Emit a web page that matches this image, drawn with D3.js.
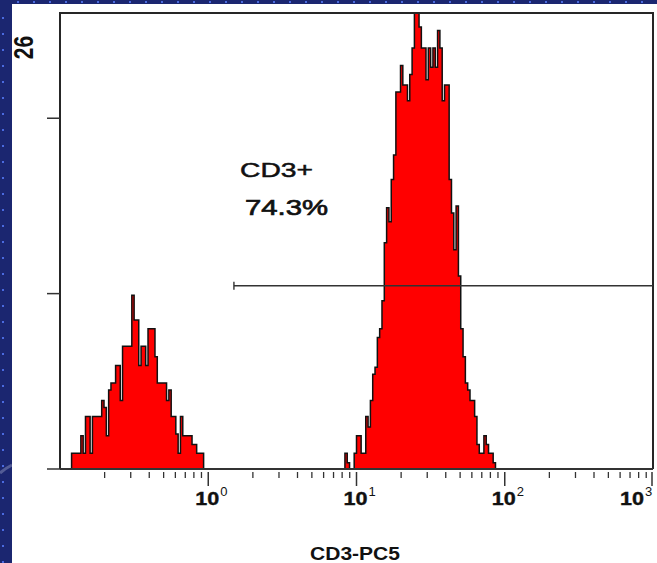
<!DOCTYPE html>
<html>
<head>
<meta charset="utf-8">
<script src="https://cdn.jsdelivr.net/npm/d3@7"></script>
<style>
  html, body { margin: 0; padding: 0; background: #1b2670; }
  svg { display: block; }
</style>
</head>
<body>
<script>
// ---------- data ----------
const channelCount = 256;              // channels spread over 4 decades
const decadeRange = [0.1, 1000];
const yMax = 26;
const yTicks = [0, 10, 20];
const majorTicks = [1, 10, 100, 1000];
const majorTickLabels = ["0", "1", "2", "3"];   // exponents of 10
const axisTitle = "CD3-PC5";
const gateLabel = "CD3+";
const gatePercent = "74.3%";
const gateRange = [1.49, 1000];
const gateLevel = 10.45;

const lowPeakFirstChannel = 5;
const lowPeakCounts = [
  0.9, 0.9, 0.9, 0.9, 1.9, 0.9, 3.0, 3.0, 0.9, 3.0,
  3.0, 3.0, 3.0, 3.9, 3.5, 1.9, 4.5, 4.9, 4.9, 5.9,
  5.9, 3.9, 7.0, 7.0, 7.0, 7.0, 9.9, 8.5, 8.5, 5.9,
  7.0, 7.0, 5.9, 8.0, 8.0, 8.0, 6.4, 4.9, 4.9, 4.9,
  4.9, 3.9, 4.5, 3.0, 3.0, 2.0, 0.9, 3.0, 1.9, 1.9,
  1.9, 1.9, 1.4, 1.4, 0.9, 0.9, 0.9
];

const highPeakFirstChannel = 123;
const highPeakCounts = [
  0.9, 0.35, 0, 0, 0.9, 1.9, 1.9, 0.9, 0.9, 3.0,
  2.4, 3.9, 5.4, 5.8, 7.5, 8.0, 9.6, 12.9, 14.9, 14.1,
  16.5, 17.9, 21.5, 21.5, 23.0, 21.9, 21.9, 21.0, 22.5, 24.0,
  26.0, 26.0, 25.2, 24.0, 24.0, 22.2, 24.0, 22.9, 24.0, 22.9,
  25.0, 24.0, 21.0, 21.9, 21.9, 16.5, 14.6, 12.5, 15.0, 11.0,
  8.0, 6.4, 4.9, 4.5, 3.9, 3.9, 3.0, 1.4, 0.9, 0.9,
  1.9, 1.4, 0.9, 0.9, 0.35
];

// ---------- layout ----------
const W = 657, H = 563;
const plot = { left: 60, right: 653, top: 13, bottom: 469 };
const FONT = "Liberation Sans, Arial, sans-serif";

const svg = d3.select("body").append("svg")
  .attr("width", W).attr("height", H);

// dark blue background with dotted pattern
svg.append("rect").attr("width", W).attr("height", H).attr("fill", "#1b2670");
const dots = svg.append("g").attr("fill", "#4b6be0");
for (let x = 17; x < W; x += 16) dots.append("rect").attr("x", x).attr("y", 1).attr("width", 2).attr("height", 2);
for (let y = 17; y < H; y += 16) dots.append("rect").attr("x", 2).attr("y", y).attr("width", 2).attr("height", 2);
svg.append("path").attr("d", "M0,473 Q6,468 12,465")
  .attr("stroke", "rgba(190,195,220,0.35)").attr("stroke-width", 3).attr("fill", "none");

// white panel
svg.append("rect").attr("x", 12).attr("y", 4).attr("width", W - 12).attr("height", H - 4).attr("fill", "#ffffff");

// ---------- scales ----------
const x = d3.scaleLog().domain(decadeRange).range([plot.left, plot.right]);
const y = d3.scaleLinear().domain([0, yMax]).range([plot.bottom, plot.top]);
const logMin = Math.log10(decadeRange[0]);
const logSpan = Math.log10(decadeRange[1]) - logMin;
const channelValue = i => Math.pow(10, logMin + logSpan * i / channelCount);

function peakPoints(first, counts) {
  const pts = counts.map((c, k) => ({ v: channelValue(first + k), c }));
  pts.push({ v: channelValue(first + counts.length), c: 0 });
  return pts;
}

const area = d3.area()
  .x(d => x(d.v)).y0(y(0)).y1(d => y(d.c))
  .curve(d3.curveStepAfter);

[peakPoints(lowPeakFirstChannel, lowPeakCounts), peakPoints(highPeakFirstChannel, highPeakCounts)]
  .forEach(pts => {
    svg.append("path").datum(pts)
      .attr("d", area)
      .attr("fill", "#ff0000")
      .attr("stroke", "#111")
      .attr("stroke-width", 1.5)
      .attr("stroke-linejoin", "miter");
  });

// ---------- frame ----------
svg.append("path")
  .attr("d", `M${plot.left},${plot.bottom} V${plot.top} H${plot.right} V${plot.bottom}`)
  .attr("fill", "none").attr("stroke", "#262626").attr("stroke-width", 2);
svg.append("line")
  .attr("x1", plot.left).attr("x2", plot.right)
  .attr("y1", plot.bottom).attr("y2", plot.bottom)
  .attr("stroke", "#333").attr("stroke-width", 2);

// y ticks
svg.append("g").selectAll("line").data(yTicks).join("line")
  .attr("x1", plot.left - 13).attr("x2", plot.left)
  .attr("y1", d => y(d)).attr("y2", d => y(d))
  .attr("stroke", "#333").attr("stroke-width", 1.5);

// y max label
svg.append("text")
  .attr("transform", `translate(33,47.5) rotate(-90) scale(1,1.3)`)
  .attr("text-anchor", "middle")
  .attr("font-family", FONT)
  .attr("font-weight", "bold").attr("font-size", 21)
  .attr("fill", "#111")
  .text(yMax);

// x minor ticks
const minorTicks = [];
[0.1, 1, 10, 100].forEach(dec => { for (let m = 2; m <= 9; m++) minorTicks.push(dec * m); });
svg.append("g").selectAll("line").data(minorTicks).join("line")
  .attr("x1", d => x(d)).attr("x2", d => x(d))
  .attr("y1", plot.bottom + 3).attr("y2", plot.bottom + 9)
  .attr("stroke", "#333").attr("stroke-width", 1.3);
svg.append("g").selectAll("line").data(majorTicks).join("line")
  .attr("x1", d => Math.min(x(d), plot.right - 1)).attr("x2", d => Math.min(x(d), plot.right - 1))
  .attr("y1", plot.bottom + 3).attr("y2", plot.bottom + 17)
  .attr("stroke", "#333").attr("stroke-width", 1.5);

// x major labels
majorTicks.forEach((t, i) => {
  const startX = Math.min(x(t) - 13, W - 37);
  const txt = svg.append("text")
    .attr("x", startX).attr("y", 505)
    .attr("font-family", FONT)
    .attr("fill", "#111");
  txt.append("tspan").attr("font-weight", "bold").attr("font-size", 19)
    .attr("stroke", "#111").attr("stroke-width", 0.4)
    .attr("textLength", 24).attr("lengthAdjust", "spacingAndGlyphs").text("10");
  txt.append("tspan").attr("x", startX + 25).attr("dy", -9).attr("font-size", 13).text(majorTickLabels[i]);
});

// axis title
svg.append("text")
  .attr("x", 310).attr("y", 560)
  .attr("font-family", FONT)
  .attr("font-weight", "bold").attr("font-size", 18)
  .attr("textLength", 90).attr("lengthAdjust", "spacingAndGlyphs")
  .attr("fill", "#111")
  .text(axisTitle);

// gate
const gateY = y(gateLevel);
svg.append("line")
  .attr("x1", x(gateRange[0])).attr("x2", x(gateRange[1]))
  .attr("y1", gateY).attr("y2", gateY)
  .attr("stroke", "#333").attr("stroke-width", 1.4);
svg.append("line")
  .attr("x1", x(gateRange[0])).attr("x2", x(gateRange[0]))
  .attr("y1", gateY - 4).attr("y2", gateY + 4)
  .attr("stroke", "#333").attr("stroke-width", 1.4);

svg.append("text")
  .attr("x", 240).attr("y", 177)
  .attr("font-family", FONT)
  .attr("font-size", 21)
  .attr("stroke", "#111").attr("stroke-width", 0.5)
  .attr("textLength", 73).attr("lengthAdjust", "spacingAndGlyphs")
  .attr("fill", "#111")
  .text(gateLabel);
svg.append("text")
  .attr("x", 245).attr("y", 215)
  .attr("font-family", FONT)
  .attr("font-size", 22)
  .attr("stroke", "#111").attr("stroke-width", 0.7)
  .attr("textLength", 83).attr("lengthAdjust", "spacingAndGlyphs")
  .attr("fill", "#111")
  .text(gatePercent);
</script>
</body>
</html>
